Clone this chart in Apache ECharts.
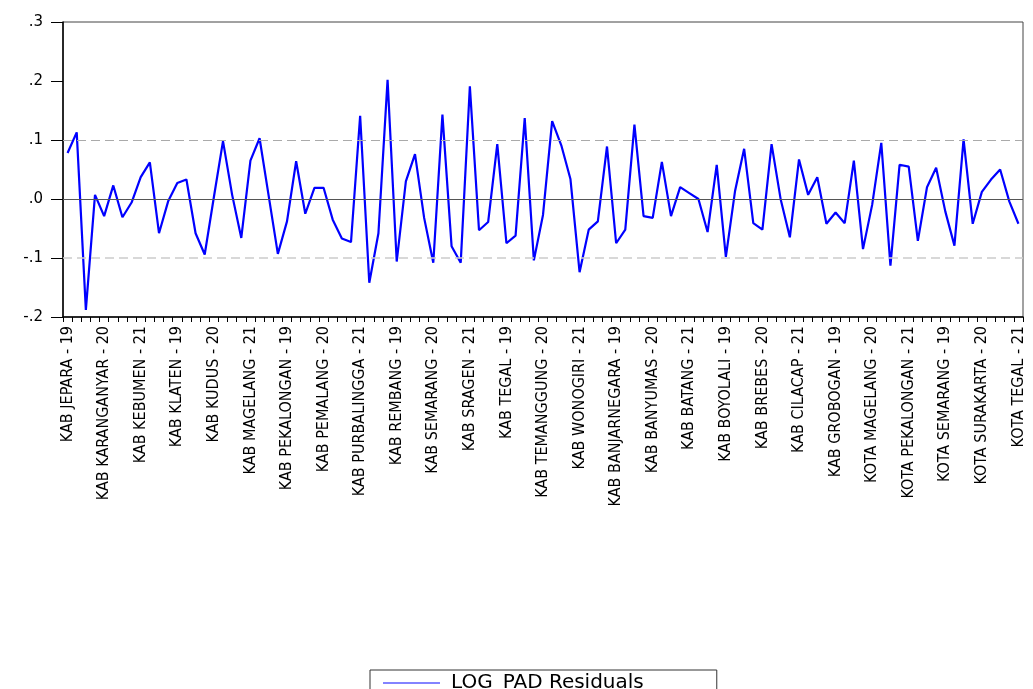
<!DOCTYPE html>
<html>
<head>
<meta charset="utf-8">
<script src="https://cdn.jsdelivr.net/npm/echarts@6/dist/echarts.min.js"></script>
<style>
html,body{margin:0;padding:0;background:#fff;}
#chart{width:1033px;height:689px;}
</style>
</head>
<body>
<div id="chart"></div>
<script>
// Cross-section units (35 regions x 3 years)
const regions = ["KAB JEPARA","KAB KARANGANYAR","KAB KEBUMEN","KAB KENDAL","KAB KLATEN","KAB KUDUS","KAB MAGELANG","KAB PATI","KAB PEKALONGAN","KAB PEMALANG","KAB PURBALINGGA","KAB PURWOREJO","KAB REMBANG","KAB SEMARANG","KAB SRAGEN","KAB SUKOHARJO","KAB TEGAL","KAB TEMANGGUNG","KAB WONOGIRI","KAB WONOSOBO","KAB BANJARNEGARA","KAB BANYUMAS","KAB BATANG","KAB BLORA","KAB BOYOLALI","KAB BREBES","KAB CILACAP","KAB DEMAK","KAB GROBOGAN","KOTA MAGELANG","KOTA PEKALONGAN","KOTA SALATIGA","KOTA SEMARANG","KOTA SURAKARTA","KOTA TEGAL"];
const years = ["19","20","21"];
const categories = [];
regions.forEach(r => years.forEach(y => categories.push(r + " - " + y)));

// LOG_PAD residuals
const residuals = [
  0.078, 0.113, -0.188, 0.007, -0.029, 0.023, -0.031, -0.006, 0.037, 0.062,
  -0.058, -0.004, 0.027, 0.033, -0.058, -0.094, 0.003, 0.098, 0.007, -0.066,
  0.065, 0.103, 0.005, -0.093, -0.038, 0.064, -0.025, 0.019, 0.019, -0.035,
  -0.067, -0.073, 0.141, -0.142, -0.058, 0.202, -0.106, 0.030, 0.076, -0.032,
  -0.108, 0.143, -0.080, -0.108, 0.191, -0.053, -0.039, 0.093, -0.075, -0.062,
  0.137, -0.104, -0.027, 0.132, 0.091, 0.034, -0.124, -0.052, -0.038, 0.089,
  -0.075, -0.052, 0.126, -0.029, -0.032, 0.063, -0.029, 0.020, 0.010, 0.000,
  -0.056, 0.058, -0.098, 0.013, 0.085, -0.041, -0.052, 0.093, -0.001, -0.065,
  0.067, 0.007, 0.037, -0.042, -0.023, -0.041, 0.065, -0.085, -0.010, 0.095,
  -0.113, 0.058, 0.055, -0.071, 0.020, 0.053, -0.021, -0.079, 0.101, -0.042,
  0.012, 0.033, 0.050, -0.004, -0.042
];

// Reference lines: zero and +/- one standard error
const zeroLine = 0;
const seBand = 0.095;

// Y axis ticks
const yTicks = [-0.2, -0.1, 0.0, 0.1, 0.2, 0.3];
const seriesName = "LOG_PAD Residuals";

function fmtY(v) {
  const r = Math.round(v * 10) / 10;
  let s = Math.abs(r).toFixed(1).replace(/^0/, "");
  return (r < 0 ? "-" : "") + s;
}

const chart = echarts.init(document.getElementById('chart'), null, {renderer: 'canvas'});
chart.setOption({
  animation: false,
  backgroundColor: '#ffffff',
  grid: {
    left: 63, right: 10, top: 22, bottom: 372,
    show: true, borderColor: '#444', borderWidth: 1, backgroundColor: 'transparent'
  },
  legend: {
    data: [seriesName],
    left: 370, top: 670,
    icon: 'rect', itemWidth: 57, itemHeight: 1.5,
    itemGap: 0,
    padding: [3, 73, 12, 13],
    borderColor: '#333', borderWidth: 1,
    textStyle: {fontFamily: 'DejaVu Sans', fontSize: 20, color: '#000', padding: [0, 0, 0, 6]},
    itemStyle: {color: '#5a5aff'}
  },
  xAxis: {
    type: 'category',
    data: categories,
    boundaryGap: true,
    axisLine: {show: true, onZero: false, lineStyle: {color: '#000', width: 1.5}},
    axisTick: {show: true, interval: 0, length: 5, lineStyle: {color: '#000', width: 1}},
    axisLabel: {
      interval: 3, rotate: 90, margin: 9,
      fontFamily: '"Liberation Sans Narrow", "DejaVu Sans Condensed", "Liberation Sans", sans-serif',
      fontSize: 16, color: '#000'
    },
    splitLine: {show: false}
  },
  yAxis: {
    type: 'value',
    min: yTicks[0], max: yTicks[yTicks.length - 1], interval: 0.1,
    axisLine: {show: true, onZero: false, lineStyle: {color: '#000', width: 1.5}},
    axisTick: {show: true, length: 12, lineStyle: {color: '#000', width: 1}},
    axisLabel: {formatter: fmtY, fontFamily: 'DejaVu Sans', fontSize: 15, color: '#000', margin: 20},
    splitLine: {show: false}
  },
  series: [{
    name: seriesName,
    type: 'line',
    data: residuals,
    showSymbol: false,
    symbol: 'none',
    lineStyle: {color: '#0000ff', width: 2.2},
    itemStyle: {color: '#0000ff'},
    z: 3,
    markLine: {
      silent: true, symbol: 'none', label: {show: false},
      data: [
        {yAxis: zeroLine, lineStyle: {color: '#555', type: 'solid', width: 1}},
        {yAxis: seBand, lineStyle: {color: '#aaa', type: [9, 5], width: 1}},
        {yAxis: -seBand, lineStyle: {color: '#ccc', type: [9, 5], width: 1.5}}
      ]
    }
  }]
});
</script>
</body>
</html>
